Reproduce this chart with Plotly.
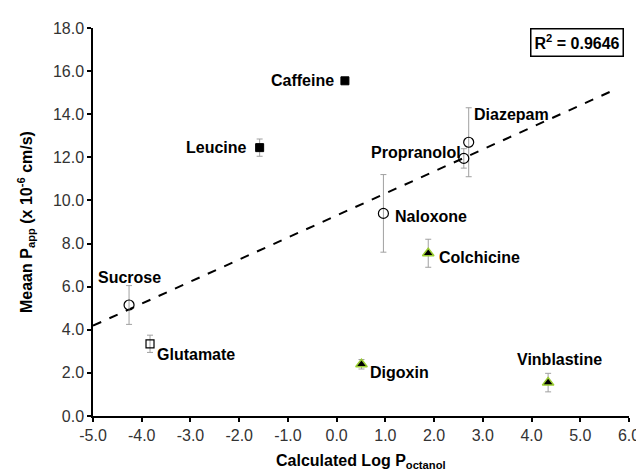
import plotly.graph_objects as go

# Data
names = ["Caffeine", "Leucine", "Diazepam", "Propranolol", "Naloxone", "Sucrose",
         "Glutamate", "Digoxin", "Colchicine", "Vinblastine"]
log_p = [0.17, -1.58, 2.71, 2.61, 0.96, -4.26, -3.83, 0.51, 1.88, 4.34]
papp = [15.55, 12.45, 12.7, 11.95, 9.4, 5.15, 3.35, 2.4, 7.55, 1.55]
papp_err = [0.0, 0.4, 1.6, 0.45, 1.8, 0.9, 0.4, 0.22, 0.65, 0.43]
marker_kind = ["filled_square", "filled_square", "circle", "circle", "circle", "circle",
               "open_square", "triangle", "triangle", "triangle"]

trend_x = [-5.0, 5.72]
trend_y = [4.19, 15.15]
r2_text = "R<sup>2</sup> = 0.9646"

x_ticks = [-5, -4, -3, -2, -1, 0, 1, 2, 3, 4, 5, 6]
y_ticks = [0, 2, 4, 6, 8, 10, 12, 14, 16, 18]

# label placement (pixel offsets from the point)
label_pos = {
    "Caffeine": ("right", -9, 0),
    "Leucine": ("right", -11, 0),
    "Diazepam": ("left", 3, 28),
    "Propranolol": ("right", -1, 6),
    "Naloxone": ("left", 10, -3),
    "Sucrose": ("center", 0, 27),
    "Glutamate": ("left", 5, -11),
    "Digoxin": ("left", 7, -8),
    "Colchicine": ("left", 9, -4),
    "Vinblastine": ("center", 11, 23),
}

styles = {
    "circle": dict(symbol="circle-open", color="black", size=10, line=dict(color="black", width=1.2)),
    "filled_square": dict(symbol="square", color="black", size=8, line=dict(color="black", width=1)),
    "open_square": dict(symbol="square-open", color="black", size=8, line=dict(color="black", width=1.2)),
    "triangle": dict(symbol="triangle-up", color="black", size=10, line=dict(color="#9acd32", width=1.5)),
}

FONT = "Liberation Sans, Arial"

fig = go.Figure()

fig.add_trace(go.Scatter(x=trend_x, y=trend_y, mode="lines",
                         line=dict(color="black", width=2, dash="dash"),
                         showlegend=False, hoverinfo="skip"))

for kind, st in styles.items():
    idx = [i for i, k in enumerate(marker_kind) if k == kind]
    fig.add_trace(go.Scatter(
        x=[log_p[i] for i in idx], y=[papp[i] for i in idx],
        mode="markers",
        marker=dict(symbol=st["symbol"], color=st["color"], size=st["size"], line=st["line"]),
        error_y=dict(type="data", array=[papp_err[i] for i in idx], visible=True,
                     color="#a0a0a0", thickness=1, width=3),
        showlegend=False))

annotations = []
for i, n in enumerate(names):
    anchor, dx, dy = label_pos[n]
    annotations.append(dict(x=log_p[i], y=papp[i], xref="x", yref="y", text="<b>%s</b>" % n,
                            showarrow=False, xanchor=anchor, yanchor="middle",
                            xshift=dx, yshift=dy,
                            font=dict(family=FONT, size=16, color="black")))

annotations.append(dict(x=0.99, y=0.962, xref="paper", yref="paper", text="<b>%s</b>" % r2_text,
                        showarrow=False, xanchor="right", yanchor="middle",
                        bordercolor="black", borderwidth=1.5, borderpad=3, bgcolor="white",
                        font=dict(family=FONT, size=16, color="black")))

annotations.append(dict(x=0.5, y=0, xref="paper", yref="paper",
                        text="<b>Calculated Log P<sub>octanol</sub></b>",
                        showarrow=False, xanchor="center", yanchor="middle", yshift=-45,
                        font=dict(family=FONT, size=16, color="black")))
annotations.append(dict(x=0, y=0.5, xref="paper", yref="paper",
                        text="<b>Meaan P<sub>app</sub> (x 10<sup>-6</sup> cm/s)</b>",
                        showarrow=False, xanchor="center", yanchor="middle", xshift=-67,
                        textangle=-90,
                        font=dict(family=FONT, size=16, color="black")))

fig.update_layout(
    width=644, height=471,
    margin=dict(l=85, r=12, t=12, b=63),
    paper_bgcolor="white", plot_bgcolor="white",
    annotations=annotations,
    font=dict(family=FONT, size=16, color="#333333"),
)
fig.update_xaxes(range=[-5, 6], tickvals=x_ticks, ticktext=["%.1f" % v for v in x_ticks],
                 showgrid=False, zeroline=False, showline=True, linecolor="black", linewidth=1.5,
                 ticks="outside", ticklen=4, tickcolor="black", tickwidth=1.5,
                 tickfont=dict(size=16, color="#333333"))
fig.update_yaxes(range=[0, 18], tickvals=y_ticks, ticktext=["%.1f" % v for v in y_ticks],
                 showgrid=False, zeroline=False, showline=True, linecolor="black", linewidth=1.5,
                 ticks="outside", ticklen=4, tickcolor="black", tickwidth=1.5,
                 tickfont=dict(size=16, color="#333333"))

fig.write_html("out.html")
